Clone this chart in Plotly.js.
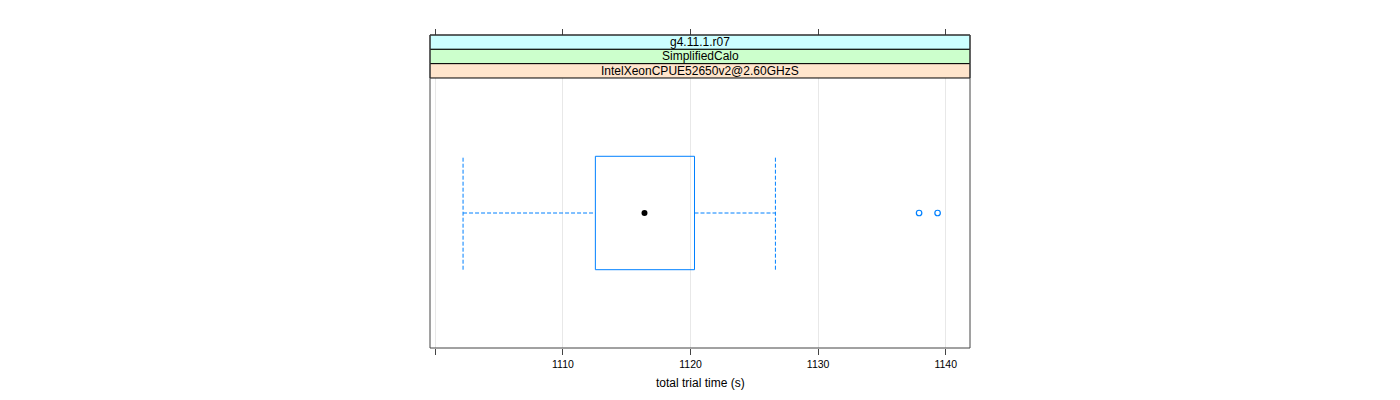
<!DOCTYPE html>
<html>
<head>
<meta charset="utf-8">
<script src="https://cdn.plot.ly/plotly-3.0.1.min.js"></script>
<style>html,body{margin:0;padding:0;background:#fff;}#chart{width:1400px;height:400px;}</style>
</head>
<body>
<div id="chart"></div>
<script>
// Data
const stripLabels = ["g4.11.1.r07", "SimplifiedCalo", "IntelXeonCPUE52650v2@2.60GHzS"];
const stripColors = ["#ccffff", "#ccffcc", "#ffe5cc"];
const whiskerLow = 1102.17;
const q1 = 1112.54;
const median = 1116.39;
const q3 = 1120.31;
const whiskerHigh = 1126.65;
const outliers = [1137.91, 1139.36];
const tickVals = [1100, 1110, 1120, 1130, 1140];
const tickText = ["", "1110", "1120", "1130", "1140"];
const xTitle = "total trial time (s)";

const boxColor = "#0080ff";
const fontFam = "Liberation Sans, Arial, sans-serif";
const yc = 1, half = 0.21;
const dash = "4px,2px";

const traces = [
  { type: "scatter", mode: "lines", x: [whiskerLow, q1, null, q3, whiskerHigh], y: [yc, yc, null, yc, yc],
    line: { color: boxColor, width: 1, dash: dash }, hoverinfo: "skip", showlegend: false },
  { type: "scatter", mode: "lines", x: [whiskerLow, whiskerLow, null, whiskerHigh, whiskerHigh],
    y: [yc - half, yc + half, null, yc - half, yc + half],
    line: { color: boxColor, width: 1, dash: dash }, hoverinfo: "skip", showlegend: false },
  { type: "scatter", mode: "lines", x: [q1, q3, q3, q1, q1],
    y: [yc - half, yc - half, yc + half, yc + half, yc - half],
    line: { color: boxColor, width: 1 }, showlegend: false },
  { type: "scatter", mode: "markers", x: [median], y: [yc],
    marker: { color: "#000", size: 6, symbol: "circle" }, showlegend: false },
  { type: "scatter", mode: "markers", x: outliers, y: outliers.map(() => yc),
    marker: { color: boxColor, size: 5.5, symbol: "circle-open", line: { color: boxColor, width: 1.2 } }, showlegend: false }
];

const H = 400, mt = 35, mb = 52;
const plotH = H - mt - mb;            // 313
const stripH = 14.33;
const dataTop = 1 - (3 * stripH) / plotH;

const shapes = [];
const annotations = [];
for (let i = 0; i < stripLabels.length; i++) {
  const y1 = 1 - (i * stripH) / plotH;
  const y0 = 1 - ((i + 1) * stripH) / plotH;
  shapes.push({ type: "rect", xref: "paper", yref: "paper", x0: 0, x1: 1, y0: y0, y1: y1,
    fillcolor: stripColors[i], line: { color: "#000", width: 1 }, layer: "above" });
  annotations.push({ xref: "paper", yref: "paper", x: 0.5, y: (y0 + y1) / 2, text: stripLabels[i],
    showarrow: false, xanchor: "center", yanchor: "middle",
    font: { family: fontFam, size: 12, color: "#000" } });
}
shapes.push({ type: "rect", xref: "paper", yref: "paper", x0: 0, x1: 1, y0: 0, y1: 1,
  line: { color: "#444", width: 1 }, fillcolor: "rgba(0,0,0,0)", layer: "above" });

annotations.push({ xref: "paper", yref: "paper", x: 0.5, y: -35 / plotH, text: xTitle, showarrow: false,
  xanchor: "center", yanchor: "middle",
  font: { family: fontFam, size: 12, color: "#000" } });

const layout = {
  width: 1400, height: 400,
  margin: { l: 430, r: 430, t: mt, b: mb, pad: 0 },
  paper_bgcolor: "#fff", plot_bgcolor: "#fff",
  showlegend: false,
  font: { family: fontFam, size: 10, color: "#000" },
  xaxis: {
    range: [1099.58, 1141.9], tickmode: "array", tickvals: tickVals, ticktext: tickText,
    ticks: "outside", ticklen: 6, tickcolor: "#444", tickwidth: 1,
    showgrid: true, gridcolor: "#e8e8e8", gridwidth: 1, zeroline: false,
    showline: false, anchor: "y", fixedrange: true,
    tickfont: { family: fontFam, size: 10.5, color: "#000" }
  },
  xaxis2: {
    range: [1099.58, 1141.9], tickmode: "array", tickvals: tickVals, ticktext: ["", "", "", "", ""],
    ticks: "outside", ticklen: 6, tickcolor: "#444", tickwidth: 1,
    showgrid: false, zeroline: false, showline: false, overlaying: "x", side: "top",
    anchor: "free", position: 1, fixedrange: true
  },
  yaxis: {
    range: [0.5, 1.5], domain: [0, dataTop], showticklabels: false, ticks: "",
    showgrid: false, zeroline: false, showline: false, fixedrange: true
  },
  shapes: shapes,
  annotations: annotations
};

traces.push({ type: "scatter", mode: "markers", x: [1120], y: [1], xaxis: "x2", yaxis: "y",
  marker: { opacity: 0 }, hoverinfo: "skip", showlegend: false });

Plotly.newPlot("chart", traces, layout, { displayModeBar: false, staticPlot: true });
</script>
</body>
</html>
